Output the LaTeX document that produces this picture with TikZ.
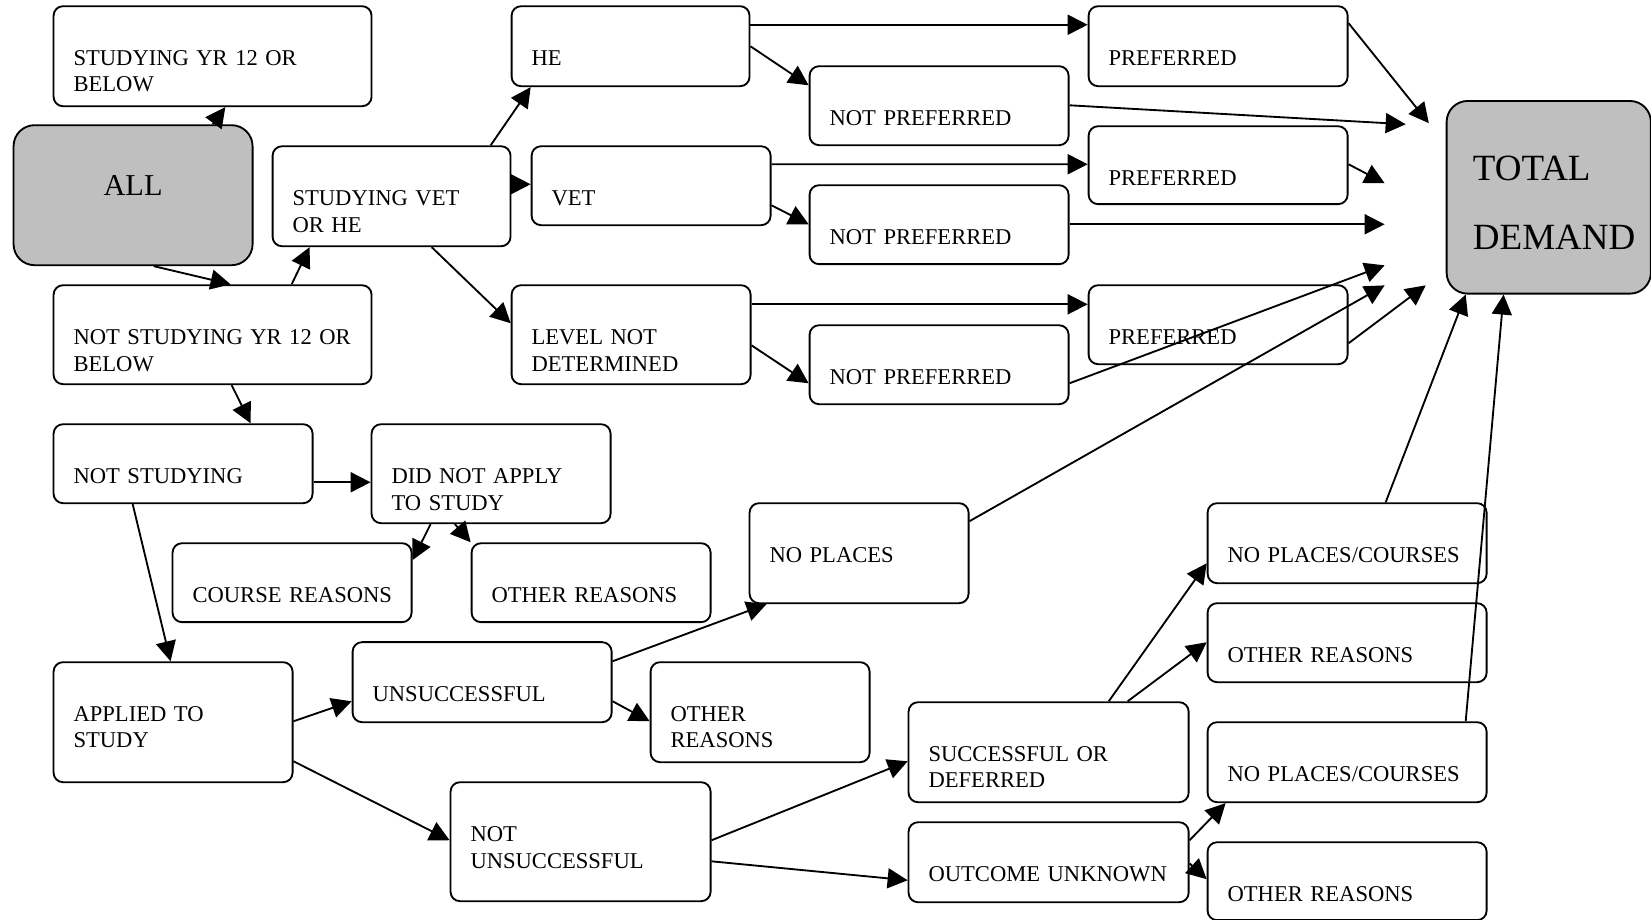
\documentclass[tikz,border=0pt]{standalone}
\usepackage{fontspec}
\setmainfont{Liberation Serif}
\usetikzlibrary{arrows.meta}

\begin{document}
\begin{tikzpicture}[
    box/.style={draw=black, rounded corners=0.18cm, anchor=north west, align=left, inner xsep=0.38cm, inner ysep=0pt, text height=1.12cm},
    % box/.style={draw=black, rounded corners, minimum height=1.5cm},
    grey box/.style={box, fill=black!25, rounded corners=0.4cm},
    arrow/.style={-{Triangle[length=0.38cm, width=0.38cm]}},
    every path/.style={line width=1pt, black},
    font=\fontsize{12.2}{14.5}\selectfont,
]

    \useasboundingbox (0,0) rectangle (31.36,-17.46);

    % % Nodes
    \node[grey box, align=center, text width=3.78cm, text height=1.33cm, text depth=1.33cm, font=\fontsize{16.4}{20}\selectfont] (all) at (0.24,-2.36) {ALL};
    \node[box, text width=5.28cm, text depth=0.78cm] (sy12) at (1.00,-0.10) {STUDYING YR 12 OR\\BELOW};
    \node[box, text width=5.28cm, text depth=0.76cm] (nsy12) at (1.00,-5.40) {NOT STUDYING YR 12 OR\\BELOW};
    \node[box, text width=3.76cm, text depth=0.78cm] (svh) at (5.16,-2.76) {STUDYING VET\\OR HE};

    \node[box, text width=3.76cm, text depth=0.40cm] (he) at (9.70,-0.10) {HE};
    \node[box, text width=3.78cm, text depth=0.38cm] (vet) at (10.08,-2.76) {VET};
    \node[box, text width=3.78cm, text depth=0.76cm] (lnd) at (9.70,-5.40) {LEVEL NOT\\DETERMINED};

    \node[box, text width=4.16cm, text depth=0.38cm] (np1) at (15.36,-1.24) {NOT PREFERRED};
    \node[box, text width=4.16cm, text depth=0.38cm] (np2) at (15.36,-3.50) {NOT PREFERRED};
    \node[box, text width=4.16cm, text depth=0.38cm] (np3) at (15.36,-6.16) {NOT PREFERRED};
    \node[box, text width=4.16cm, text depth=0.40cm] (pref1) at (20.66,-0.10) {PREFERRED};
    \node[box, text width=4.16cm, text depth=0.36cm] (pref2) at (20.66,-2.38) {PREFERRED};
    \node[box, text width=4.16cm, text depth=0.38cm] (pref3) at (20.66,-5.40) {PREFERRED};

    \node[grey box, inner xsep=0.5cm, text width=2.88cm, text height=1.52cm, text depth=2.14cm, font=\fontsize{20}{37}\selectfont] (td) at (27.46,-1.90) {TOTAL\\DEMAND};

    \node[box, text width=4.16cm, text depth=0.38cm] (ns) at (1.00,-8.04) {NOT STUDYING};
    \node[box, text width=3.78cm, text depth=0.76cm] (dna) at (7.04,-8.04) {DID NOT APPLY\\TO STUDY};
    \node[box, text width=3.78cm, text depth=0.38cm] (cr) at (3.26,-10.30) {\mbox{COURSE REASONS}};
    \node[box, text width=3.78cm, text depth=0.38cm] (or1) at (8.94,-10.30) {OTHER REASONS};

    \node[box, text width=3.78cm, text depth=1.16cm] (as) at (1.00,-12.56) {APPLIED TO\\STUDY};
    \node[box, text width=4.16cm, text depth=0.40cm] (uns) at (6.68,-12.18) {UNSUCCESSFUL};
    \node[box, text width=3.40cm, text depth=0.78cm] (np) at (14.22,-9.54) {NO PLACES};
    \node[box, text width=3.40cm, text depth=0.78cm] (or2) at (12.34,-12.56) {OTHER\\REASONS};
    \node[box, text width=4.18cm, text depth=1.14cm] (nus) at (8.54,-14.84) {NOT\\UNSUCCESSFUL};

    \node[box, text width=4.56cm, text depth=0.78cm] (sod) at (17.24,-13.32) {SUCCESSFUL OR\\DEFERRED};
    \node[box, text width=4.56cm, text depth=0.40cm] (ou) at (17.24,-15.60) {\mbox{OUTCOME UNKNOWN}};
    \node[box, text width=4.54cm, text depth=0.40cm] (npc1) at (22.92,-9.54) {NO PLACES/COURSES};
    \node[box, text width=4.54cm, text depth=0.38cm] (or3) at (22.92,-11.44) {OTHER REASONS};
    \node[box, text width=4.54cm, text depth=0.40cm] (npc2) at (22.92,-13.70) {NO PLACES/COURSES};
    \node[box, text width=4.54cm, text depth=0.36cm] (or4) at (22.92,-15.98) {OTHER REASONS};

    % loose ends in front of total demand
    \coordinate (in1) at (27.14,-2.34);
    \coordinate (in2) at (26.70,-2.36);
    \coordinate (in3) at (26.30,-3.48);
    \coordinate (in4) at (26.30,-4.26);
    \coordinate (in5) at (26.30,-5.04);
    \coordinate (in6) at (26.30,-5.42);
    \coordinate (in7) at (27.08,-5.42);

    % Edges
    \draw[arrow] ([xshift=3.80cm]all.north west) -- ([xshift=3.28cm]sy12.south west);
    \draw[arrow] ([xshift=2.68cm]all.south west) -- ([xshift=3.38cm]nsy12.north west);
    \draw[arrow] ([xshift=4.54cm]nsy12.north west) -- ([xshift=0.72cm]svh.south west);
    \draw[arrow] ([xshift=3.40cm]nsy12.south west) -- ([xshift=3.76cm]ns.north west);

    \draw[arrow] ([xshift=4.16cm]svh.north west) -- ([xshift=0.38cm]he.south west);
    \draw[arrow] ([yshift=-0.74cm]svh.north east) -- ([yshift=-0.74cm]vet.north west);
    \draw[arrow] ([xshift=3.04cm]svh.south west) -- ([yshift=-0.74cm]lnd.north west);

    \draw[arrow] ([yshift=-0.37cm]he.north east) -- ([yshift=-0.37cm]pref1.north west);
    \draw[arrow] ([yshift=-0.78cm]he.north east) -- ([yshift=-0.38cm]np1.north west);
    \draw[arrow] ([yshift=-0.36cm]vet.north east) -- ([yshift=-0.74cm]pref2.north west);
    \draw[arrow] ([yshift=-1.14cm]vet.north east) -- ([yshift=-0.76cm]np2.north west);
    \draw[arrow] ([yshift=-0.38cm]lnd.north east) -- ([yshift=-0.38cm]pref3.north west);
    \draw[arrow] ([yshift=-1.16cm]lnd.north east) -- ([yshift=-1.12cm]np3.north west);

    \draw[arrow] ([yshift=-0.34cm]pref1.north east) -- (in1);
    \draw[arrow] ([yshift=-0.76cm]np1.north east) -- (in2);
    \draw[arrow] ([yshift=-0.74cm]pref2.north east) -- (in3);
    \draw[arrow] ([yshift=-0.76cm]np2.north east) -- (in4);
    \draw[arrow] ([yshift=-1.12cm]np3.north east) -- (in5);
    \draw[arrow] ([yshift=-0.36cm]np.north east) -- (in6);
    \draw[arrow] ([yshift=-1.12cm]pref3.north east) -- (in7);
    \draw[arrow] ([xshift=3.40cm]npc1.north west) -- ([xshift=0.38cm]td.south west);
    \draw[arrow] ([xshift=4.92cm]npc2.north west) -- ([xshift=1.10cm]td.south west);

    \draw[arrow] ([yshift=-1.12cm]ns.north east) -- ([yshift=-1.12cm]dna.north west);
    \draw[arrow] ([xshift=1.14cm]dna.south west) -- ([yshift=-0.34cm]cr.north east);
    \draw[arrow] ([xshift=1.60cm]dna.south west) -- (or1.north west);
    \draw[arrow] ([xshift=1.52cm]ns.south west) -- ([xshift=2.24cm]as.north west);

    \draw[arrow] ([yshift=-1.14cm]as.north east) -- ([yshift=-1.14cm]uns.north west);
    \draw[arrow] ([yshift=-1.90cm]as.north east) -- ([yshift=-1.12cm]nus.north west);
    \draw[arrow] ([yshift=-0.38cm]uns.north east) -- ([xshift=0.34cm]np.south west);
    \draw[arrow] ([yshift=-1.14cm]uns.north east) -- ([yshift=-1.14cm]or2.north west);

    \draw[arrow] ([yshift=-1.12cm]nus.north east) -- ([yshift=-1.14cm]sod.north west);
    \draw[arrow] ([yshift=-1.52cm]nus.north east) -- ([yshift=-1.12cm]ou.north west);
    \draw[arrow] ([xshift=3.82cm]sod.north west) -- ([yshift=-1.16cm]npc1.north west);
    \draw[arrow] ([xshift=4.18cm]sod.north west) -- ([yshift=-0.76cm]or3.north west);
    \draw[arrow] ([yshift=-0.36cm]ou.north east) -- ([xshift=0.36cm]npc2.south west);
    \draw[arrow] ([yshift=-0.80cm]ou.north east) -- ([yshift=-0.72cm]or4.north west);

\end{tikzpicture}
\end{document}
